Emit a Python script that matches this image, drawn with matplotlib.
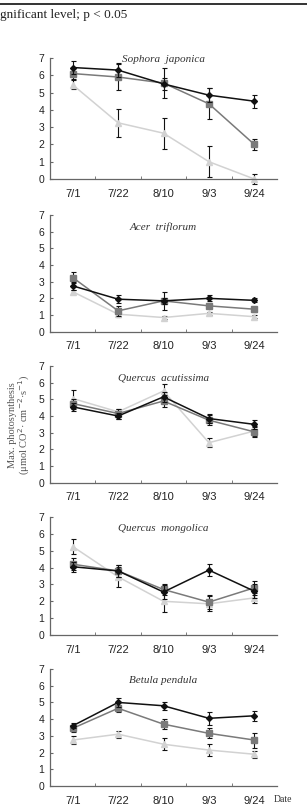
import numpy as np
import matplotlib
matplotlib.use("Agg")
import matplotlib.pyplot as plt

dates = ["7/1", "7/22", "8/10", "9/3", "9/24"]
species = ["Sophora  japonica", "Acer  triflorum", "Quercus  acutissima",
           "Quercus  mongolica", "Betula pendula"]

# mean values per species: (black, gray, light gray)
sophora_black = [6.45, 6.3, 5.5, 4.85, 4.5]
sophora_gray = [6.1, 5.9, 5.55, 4.35, 2.0]
sophora_light = [5.45, 3.25, 2.65, 1.0, 0.0]
sophora_black_err = [0.4, 0.4, 0.35, 0.4, 0.38]
sophora_gray_err = [0.3, 0.75, 0.85, 0.9, 0.32]
sophora_light_err = [0.25, 0.8, 0.9, 0.9, 0.3]

acer_black = [2.75, 1.95, 1.85, 2.0, 1.88]
acer_gray = [3.25, 1.25, 1.85, 1.55, 1.35]
acer_light = [2.4, 1.05, 0.85, 1.1, 0.9]
acer_black_err = [0.25, 0.25, 0.2, 0.18, 0.12]
acer_gray_err = [0.35, 0.3, 0.55, 0.15, 0.15]
acer_light_err = [0.1, 0.15, 0.08, 0.1, 0.1]

acut_black = [4.55, 4.0, 5.15, 3.85, 3.5]
acut_gray = [4.75, 4.15, 4.9, 3.75, 3.05]
acut_light = [5.05, 4.25, 5.5, 2.4, 3.1]
acut_black_err = [0.25, 0.2, 0.3, 0.25, 0.25]
acut_gray_err = [0.3, 0.3, 0.35, 0.3, 0.3]
acut_light_err = [0.5, 0.2, 0.45, 0.27, 0.3]

mong_black = [4.05, 3.8, 2.55, 3.85, 2.6]
mong_gray = [4.2, 3.8, 2.7, 1.95, 2.8]
mong_light = [5.25, 3.45, 2.0, 1.85, 2.2]
mong_black_err = [0.3, 0.35, 0.4, 0.35, 0.4]
mong_gray_err = [0.35, 0.35, 0.35, 0.4, 0.4]
mong_light_err = [0.45, 0.6, 0.63, 0.45, 0.3]

betula_black = [3.6, 5.0, 4.8, 4.05, 4.2]
betula_gray = [3.45, 4.65, 3.7, 3.15, 2.75]
betula_light = [2.75, 3.1, 2.5, 2.15, 1.9]
betula_black_err = [0.15, 0.25, 0.25, 0.38, 0.3]
betula_gray_err = [0.2, 0.2, 0.3, 0.3, 0.45]
betula_light_err = [0.25, 0.2, 0.35, 0.35, 0.2]

panels = [
    (sophora_black, sophora_gray, sophora_light, sophora_black_err, sophora_gray_err, sophora_light_err),
    (acer_black, acer_gray, acer_light, acer_black_err, acer_gray_err, acer_light_err),
    (acut_black, acut_gray, acut_light, acut_black_err, acut_gray_err, acut_light_err),
    (mong_black, mong_gray, mong_light, mong_black_err, mong_gray_err, mong_light_err),
    (betula_black, betula_gray, betula_light, betula_black_err, betula_gray_err, betula_light_err),
]

# axes positions in pixels: (y of value 0, y of value 7)
W, H = 307, 806
pix = [(179, 58), (331.7, 215), (482.7, 366), (635, 517), (786, 669)]
title_y = [0.99, 0.9, 0.9, 0.9, 0.9]

fig = plt.figure(figsize=(W / 100, H / 100), dpi=100)

# header rule and partial caption text
fig.add_artist(plt.Line2D([0, 1], [1 - 4 / H, 1 - 4 / H], color="#333333", lw=1.4))
fig.text(0.0, 1 - 15 / H, "gnificant level; p < 0.05", family="Liberation Serif",
         fontsize=9.5, ha="left", va="center", color="#222222")

styles = [
    dict(color="#d2d2d2", marker="^", ms=4, zorder=2),
    dict(color="#7a7a7a", marker="s", ms=4.5, zorder=3),
    dict(color="#111111", marker="D", ms=3, zorder=4),
]

x = np.arange(len(dates))
for i, (data, (y0, y7)) in enumerate(zip(panels, pix)):
    ax = fig.add_axes([50 / W, 1 - y0 / H, 227 / W, (y0 - y7) / H])
    black, gray, light, be, ge, le = data
    for vals, errs, st in zip([light, gray, black], [le, ge, be], styles):
        ax.errorbar(x, vals, yerr=errs, color=st["color"], marker=st["marker"],
                    ms=st["ms"], lw=1.1, ecolor="#111111", elinewidth=0.8,
                    capsize=1.8, capthick=0.8, zorder=st["zorder"], clip_on=False)
    ax.set_xlim(-0.5, 4.5)
    ax.set_ylim(0, 7)
    ax.set_yticks(range(8))
    ax.set_yticklabels([str(v) for v in range(8)], family="Liberation Sans",
                       fontsize=7.5, color="#222222")
    ax.set_xticks(x)
    ax.set_xticklabels(dates, family="Liberation Sans", fontsize=8, color="#222222")
    ax.set_xticks(np.arange(0.5, 4.5, 1), minor=True)
    ax.tick_params(axis="x", which="major", length=0, pad=7)
    ax.tick_params(axis="x", which="minor", length=2.5, direction="in", color="#666666")
    ax.tick_params(axis="y", length=2, direction="in", color="#666666", pad=4)
    for s in ["top", "right"]:
        ax.spines[s].set_visible(False)
    for s in ["left", "bottom"]:
        ax.spines[s].set_color("#666666")
        ax.spines[s].set_linewidth(0.9)
    ax.text(0.5, title_y[i], species[i], transform=ax.transAxes, ha="center",
            va="center", family="Liberation Serif", style="italic", fontsize=8,
            color="#333333")

fig.text(20 / W, 1 - 425 / H,
         "Max. photosynthesis\n(μmol CO$^{2}$· cm$^{-2}$·s$^{-1}$)",
         rotation=90, ha="center", va="center", family="Liberation Serif",
         fontsize=7.5, color="#555555", linespacing=1.0)
fig.text(283 / W, 1 - 800 / H, "Date", ha="center", va="center",
         family="Liberation Serif", fontsize=7, color="#333333")

fig.savefig("out.png", dpi=100, facecolor="white")
